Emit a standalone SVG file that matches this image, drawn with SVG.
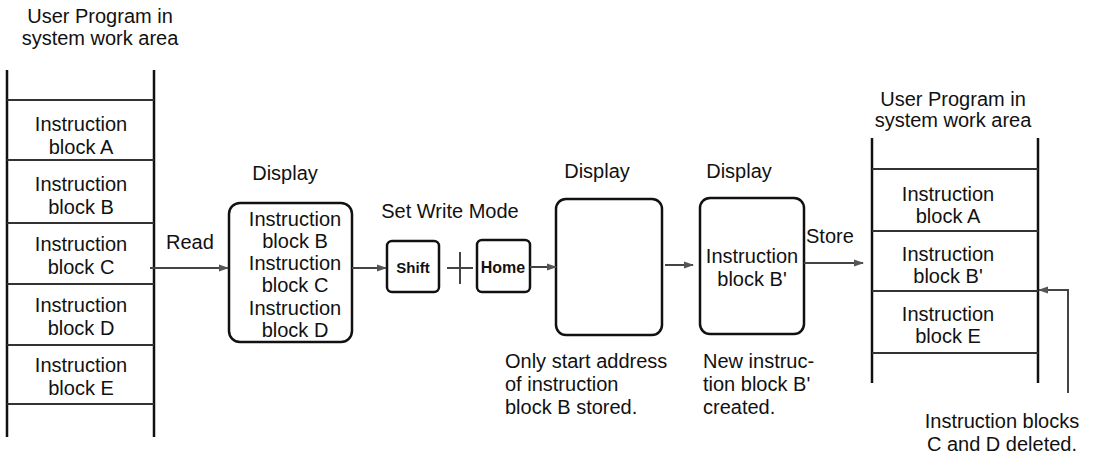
<svg xmlns="http://www.w3.org/2000/svg" width="1096" height="454" viewBox="0 0 1096 454">
<style>
text{font-family:"Liberation Sans",Arial,sans-serif;font-size:20px;fill:#111}
.m{text-anchor:middle}
.k{font-weight:bold;font-size:15px;text-anchor:middle}
.rail{stroke:#111;stroke-width:2.5;fill:none}
.div{stroke:#333;stroke-width:2;fill:none}
.box{fill:#fff;stroke:#111;stroke-width:2.5}
.c{stroke:#444;stroke-width:2;fill:none}
</style>
<defs>
<marker id="ah" viewBox="0 0 10 10" refX="9" refY="5" markerWidth="5" markerHeight="5" orient="auto">
<path d="M0,1.5 L10,5 L0,8.5 Z" fill="#555"/>
</marker>
</defs>
<rect width="1096" height="454" fill="#fff"/>

<g id="left-memory">
<text class="m" x="100" y="23">User Program in</text>
<text class="m" x="100" y="45">system work area</text>
<line class="rail" x1="7" y1="70" x2="7" y2="437"/>
<line class="rail" x1="154" y1="70" x2="154" y2="437"/>
<line class="div" x1="7" y1="100" x2="154" y2="100"/>
<line class="div" x1="7" y1="160" x2="154" y2="160"/>
<line class="div" x1="7" y1="223" x2="154" y2="223"/>
<line class="div" x1="7" y1="284" x2="154" y2="284"/>
<line class="div" x1="7" y1="345" x2="154" y2="345"/>
<line class="div" x1="7" y1="404" x2="154" y2="404"/>
<text class="m" x="81" y="131">Instruction</text>
<text class="m" x="81" y="154">block A</text>
<text class="m" x="81" y="191">Instruction</text>
<text class="m" x="81" y="214">block B</text>
<text class="m" x="81" y="251">Instruction</text>
<text class="m" x="81" y="274">block C</text>
<text class="m" x="81" y="312">Instruction</text>
<text class="m" x="81" y="335">block D</text>
<text class="m" x="81" y="372">Instruction</text>
<text class="m" x="81" y="395">block E</text>
</g>

<g id="display1">
<text class="m" x="285" y="180">Display</text>
<rect class="box" x="229" y="203" width="123" height="139" rx="11"/>
<text class="m" x="295" y="226">Instruction</text>
<text class="m" x="295" y="248">block B</text>
<text class="m" x="295" y="270">Instruction</text>
<text class="m" x="295" y="292">block C</text>
<text class="m" x="295" y="315">Instruction</text>
<text class="m" x="295" y="337">block D</text>
</g>

<g id="set-write-mode">
<text class="m" x="450" y="218">Set Write Mode</text>
<rect class="box" x="387" y="241" width="52" height="51" rx="5"/>
<text class="k" x="413" y="273">Shift</text>
<line class="c" x1="447" y1="268" x2="473" y2="268" stroke-width="2.5"/>
<line class="c" x1="460" y1="252" x2="460" y2="284" stroke-width="2.5"/>
<rect class="box" x="477" y="240" width="53" height="52" rx="5"/>
<text class="k" x="503" y="273" style="font-size:16px">Home</text>
</g>

<g id="display2">
<text class="m" x="597" y="178">Display</text>
<rect class="box" x="556" y="199" width="106" height="136" rx="10"/>
<text x="505" y="368">Only start address</text>
<text x="505" y="391">of instruction</text>
<text x="505" y="414">block B stored.</text>
</g>

<g id="display3">
<text class="m" x="739" y="178">Display</text>
<rect class="box" x="700" y="198" width="104" height="136" rx="10"/>
<text class="m" x="752" y="263">Instruction</text>
<text class="m" x="752" y="286">block B'</text>
<text x="703" y="368">New instruc-</text>
<text x="703" y="391">tion block B'</text>
<text x="703" y="414">created.</text>
</g>

<g id="right-memory">
<text class="m" x="953" y="106">User Program in</text>
<text class="m" x="953" y="127">system work area</text>
<line class="rail" x1="872" y1="138" x2="872" y2="383"/>
<line class="rail" x1="1038" y1="138" x2="1038" y2="383"/>
<line class="div" x1="872" y1="169" x2="1038" y2="169"/>
<line class="div" x1="872" y1="231" x2="1038" y2="231"/>
<line class="div" x1="872" y1="291" x2="1038" y2="291"/>
<line class="div" x1="872" y1="353" x2="1038" y2="353"/>
<text class="m" x="948" y="201">Instruction</text>
<text class="m" x="948" y="223">block A</text>
<text class="m" x="948" y="261">Instruction</text>
<text class="m" x="948" y="283">block B'</text>
<text class="m" x="948" y="321">Instruction</text>
<text class="m" x="948" y="343">block E</text>
<text class="m" x="1002" y="428">Instruction blocks</text>
<text class="m" x="1002" y="451">C and D deleted.</text>
</g>

<g id="connectors">
<line class="c" x1="150" y1="268" x2="228" y2="268" marker-end="url(#ah)"/>
<text x="166" y="249">Read</text>
<line class="c" x1="352" y1="268" x2="386" y2="268" marker-end="url(#ah)"/>
<line class="c" x1="530" y1="267" x2="556" y2="267" marker-end="url(#ah)"/>
<line class="c" x1="665" y1="265" x2="693" y2="265" marker-end="url(#ah)"/>
<line class="c" x1="804" y1="263" x2="863" y2="263" marker-end="url(#ah)"/>
<text x="806" y="243">Store</text>
<polyline class="c" points="1068,393 1068,290 1039,290" marker-end="url(#ah)"/>
</g>
</svg>
